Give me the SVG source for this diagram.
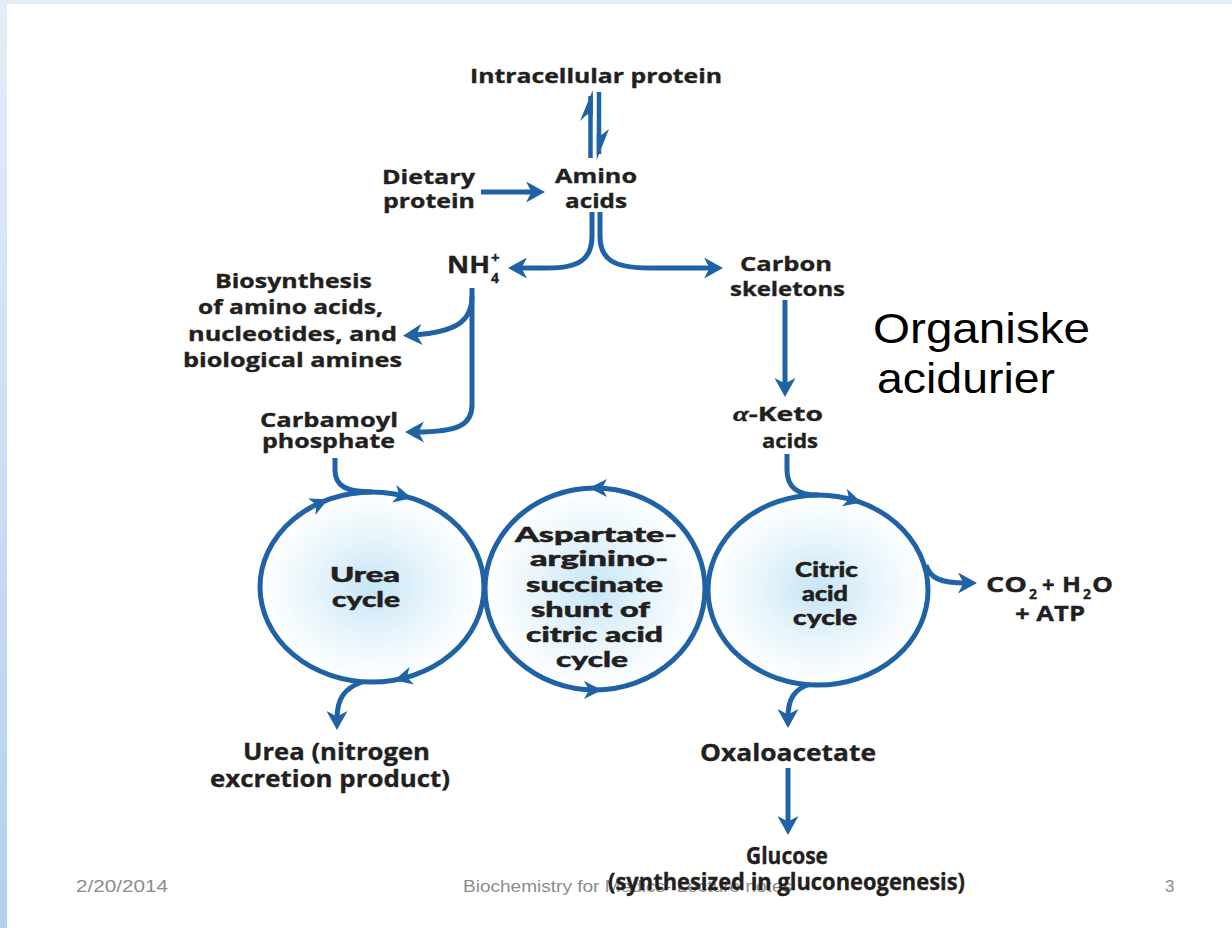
<svg xmlns="http://www.w3.org/2000/svg" width="1232" height="928" viewBox="0 0 1232 928">
<defs>
<style>
.lbl{font-family:"Open Sans","Liberation Sans",sans-serif;font-weight:700;fill:#231f20;font-size:20px;stroke:#231f20;stroke-width:0.35}
.big{font-size:24px}
.cyc{font-family:"Lato","DejaVu Sans",sans-serif;font-weight:900;fill:#231f20;font-size:21px;stroke:#231f20;stroke-width:0.5}
.ln{fill:none;stroke:#1f62a5;stroke-width:5;stroke-linecap:butt}
.ring{stroke:#1f62a5;stroke-width:5}
.ah{fill:#1f62a5}
.foot{font-family:"Liberation Sans",Arial,sans-serif;fill:#8c8c8c;font-size:17px}
.org{font-family:"Liberation Sans",Arial,sans-serif;fill:#000;font-size:43px}
</style>
<linearGradient id="bar" x1="0" y1="0" x2="0" y2="1">
<stop offset="0" stop-color="#e3edf8"/>
<stop offset="1" stop-color="#b3cfee"/>
</linearGradient>
<radialGradient id="glow" cx="0.5" cy="0.5" r="0.5">
<stop offset="0" stop-color="#c6e5f6"/>
<stop offset="0.5" stop-color="#e6f4fb"/>
<stop offset="1" stop-color="#ffffff"/>
</radialGradient>
<marker id="arr" markerUnits="userSpaceOnUse" markerWidth="19" markerHeight="21" viewBox="0 0 19 21" refX="8" refY="10.5" orient="auto">
<path d="M0,0 L19,10.5 L0,21 L5.5,10.5 z" fill="#1f62a5"/>
</marker>
<path id="cah" d="M-9,-9 L9,0 L-9,9 L-4,0 z"/>
</defs>

<rect x="0" y="0" width="1232" height="928" fill="#ffffff"/>
<rect x="0" y="0" width="1232" height="4" fill="#e3edf8"/>
<rect x="0" y="0" width="7" height="928" fill="url(#bar)"/>

<g id="urea-cycle">
<ellipse cx="372" cy="587" rx="112" ry="95" fill="url(#glow)" class="ring"/>
<text class="cyc" x="330" y="582" textLength="70" lengthAdjust="spacingAndGlyphs">Urea</text>
<text class="cyc" x="332" y="607" textLength="68" lengthAdjust="spacingAndGlyphs">cycle</text>
</g>
<g id="aspartate-shunt">
<ellipse cx="595" cy="589" rx="110" ry="101" fill="url(#glow)" class="ring"/>
<text class="cyc" x="515" y="542" textLength="162" lengthAdjust="spacingAndGlyphs">Aspartate-</text>
<text class="cyc" x="530" y="566" textLength="138" lengthAdjust="spacingAndGlyphs">arginino-</text>
<text class="cyc" x="526" y="592" textLength="137" lengthAdjust="spacingAndGlyphs">succinate</text>
<text class="cyc" x="531" y="617" textLength="119" lengthAdjust="spacingAndGlyphs">shunt of</text>
<text class="cyc" x="526" y="642" textLength="137" lengthAdjust="spacingAndGlyphs">citric acid</text>
<text class="cyc" x="556" y="667" textLength="72" lengthAdjust="spacingAndGlyphs">cycle</text>
</g>
<g id="citric-acid-cycle">
<ellipse cx="818" cy="590" rx="110" ry="95" fill="url(#glow)" class="ring"/>
<text class="cyc" x="795" y="577" textLength="63" lengthAdjust="spacingAndGlyphs">Citric</text>
<text class="cyc" x="802" y="601" textLength="46" lengthAdjust="spacingAndGlyphs">acid</text>
<text class="cyc" x="793" y="625" textLength="64" lengthAdjust="spacingAndGlyphs">cycle</text>
</g>

<g id="connectors">
<path class="ln" style="stroke-width:4.5" d="M590.5,96 V158"/>
<path class="ah" d="M592.8,90 L580,121 L587,114.5 L592.8,115 z"/>
<path class="ln" style="stroke-width:4.5" d="M599,92 V154"/>
<path class="ah" d="M596.7,160 L609,129 L601.3,135 L596.7,134 z"/>
<path class="ln" d="M481,192 H534" marker-end="url(#arr)"/>
<path class="ln" d="M592,212 V236 C592,260 578,268 548,268 H519" marker-end="url(#arr)"/>
<path class="ln" d="M600,212 V236 C600,260 614,268 650,268 H712" marker-end="url(#arr)"/>
<path class="ln" d="M472,296 C472,322 455,332 414,335" marker-end="url(#arr)"/>
<path class="ln" d="M472,288 V405 C472,425 458,432 416,432" marker-end="url(#arr)"/>
<path class="ln" d="M785,300 V386" marker-end="url(#arr)"/>
<path class="ln" d="M335,458 V470 C335,486 346,492 372,492"/>
<path class="ln" d="M787,454 V470 C787,487 797,495 818,495"/>
<path class="ln" d="M362,682 C345,688 337,698 337,719" marker-end="url(#arr)"/>
<path class="ln" d="M810,684 C795,689 788,698 788,717" marker-end="url(#arr)"/>
<path class="ln" d="M926,565 C930,578 940,583 966,583" marker-end="url(#arr)"/>
<path class="ln" d="M788,768 V824" marker-end="url(#arr)"/>
<use href="#cah" class="ah" transform="translate(320,503) rotate(-24)"/>
<use href="#cah" class="ah" transform="translate(403,496) rotate(14)"/>
<use href="#cah" class="ah" transform="translate(403,678) rotate(166)"/>
<use href="#cah" class="ah" transform="translate(598,488) rotate(180)"/>
<use href="#cah" class="ah" transform="translate(593,690) rotate(0)"/>
<use href="#cah" class="ah" transform="translate(853,500) rotate(16)"/>
</g>

<g id="intracellular-protein"><text class="lbl" x="470" y="83" textLength="252" lengthAdjust="spacingAndGlyphs">Intracellular protein</text></g>
<g id="dietary-protein">
<text class="lbl" x="382" y="184" textLength="93" lengthAdjust="spacingAndGlyphs">Dietary</text>
<text class="lbl" x="383" y="208" textLength="92" lengthAdjust="spacingAndGlyphs">protein</text>
</g>
<g id="amino-acids">
<text class="lbl" x="555" y="183" textLength="82" lengthAdjust="spacingAndGlyphs">Amino</text>
<text class="lbl" x="565" y="208" textLength="62" lengthAdjust="spacingAndGlyphs">acids</text>
</g>
<g id="nh4">
<text class="lbl" x="447" y="273" style="font-size:23px" textLength="43" lengthAdjust="spacingAndGlyphs">NH</text>
<text class="lbl" x="491" y="283" style="font-size:14px">4</text>
<text class="lbl" x="491" y="263" style="font-size:15px">+</text>
</g>
<g id="carbon-skeletons">
<text class="lbl" x="740" y="271" textLength="92" lengthAdjust="spacingAndGlyphs">Carbon</text>
<text class="lbl" x="730" y="296" textLength="115" lengthAdjust="spacingAndGlyphs">skeletons</text>
</g>
<g id="biosynthesis">
<text class="lbl" x="215" y="288" textLength="157" lengthAdjust="spacingAndGlyphs">Biosynthesis</text>
<text class="lbl" x="198" y="314" textLength="185" lengthAdjust="spacingAndGlyphs">of amino acids,</text>
<text class="lbl" x="188" y="341" textLength="209" lengthAdjust="spacingAndGlyphs">nucleotides, and</text>
<text class="lbl" x="183" y="367" textLength="219" lengthAdjust="spacingAndGlyphs">biological amines</text>
</g>
<g id="carbamoyl-phosphate">
<text class="lbl" x="260" y="427" textLength="138" lengthAdjust="spacingAndGlyphs">Carbamoyl</text>
<text class="lbl" x="262" y="448" textLength="133" lengthAdjust="spacingAndGlyphs">phosphate</text>
</g>
<g id="keto-acids">
<text class="lbl" x="733" y="421" textLength="90" lengthAdjust="spacingAndGlyphs"><tspan style="font-family:'Liberation Serif',serif;font-style:italic">α</tspan>-Keto</text>
<text class="lbl" x="762" y="448" textLength="56" lengthAdjust="spacingAndGlyphs">acids</text>
</g>
<g id="organiske-acidurier">
<text class="org" x="873" y="343" textLength="217" lengthAdjust="spacingAndGlyphs">Organiske</text>
<text class="org" x="877" y="393" textLength="178" lengthAdjust="spacingAndGlyphs">acidurier</text>
</g>
<g id="co2-h2o-atp">
<text class="lbl" x="986" y="592" style="font-size:22px" textLength="41" lengthAdjust="spacingAndGlyphs">CO</text>
<text class="lbl" x="1029" y="599" style="font-size:14px">2</text>
<text class="lbl" x="1042" y="592" style="font-size:22px">+</text>
<text class="lbl" x="1062" y="592" style="font-size:22px" textLength="19" lengthAdjust="spacingAndGlyphs">H</text>
<text class="lbl" x="1083" y="599" style="font-size:14px">2</text>
<text class="lbl" x="1092" y="592" style="font-size:22px" textLength="21" lengthAdjust="spacingAndGlyphs">O</text>
<text class="lbl" x="1015" y="621" style="font-size:22px" textLength="70" lengthAdjust="spacingAndGlyphs">+ ATP</text>
</g>
<g id="urea-product">
<text class="lbl big" x="243" y="760" textLength="187" lengthAdjust="spacingAndGlyphs">Urea (nitrogen</text>
<text class="lbl big" x="210" y="787" textLength="240" lengthAdjust="spacingAndGlyphs">excretion product)</text>
</g>
<g id="oxaloacetate"><text class="lbl big" x="700" y="761" textLength="176" lengthAdjust="spacingAndGlyphs">Oxaloacetate</text></g>
<g id="glucose">
<text class="lbl big" x="746" y="864" textLength="82" lengthAdjust="spacingAndGlyphs">Glucose</text>
<text class="foot" x="463" y="892" textLength="329" lengthAdjust="spacingAndGlyphs">Biochemistry for Medics- Lecture notes</text>
<text class="lbl big" x="608" y="890" textLength="357" lengthAdjust="spacingAndGlyphs">(synthesized in gluconeogenesis)</text>
</g>
<g id="footer">
<text class="foot" x="76" y="892" textLength="92" lengthAdjust="spacingAndGlyphs">2/20/2014</text>
<text class="foot" x="1165" y="892">3</text>
</g>
</svg>
